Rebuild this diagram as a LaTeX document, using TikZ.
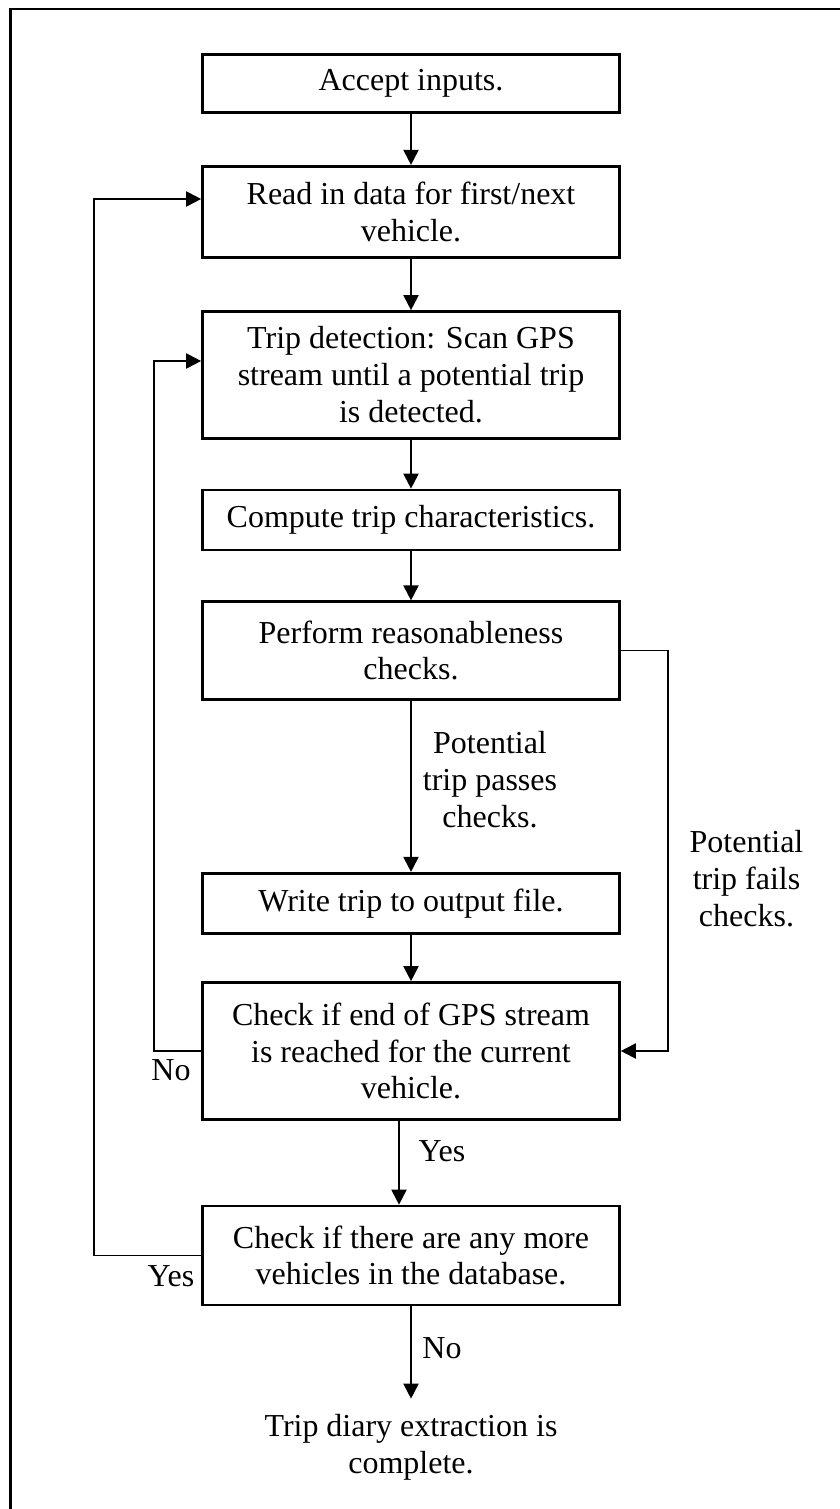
\documentclass[tikz,border=0pt]{standalone}
\usepackage{fontspec}
\setmainfont{Liberation Serif}
\usepackage{tikz}
\usetikzlibrary{arrows.meta}

\begin{document}
\begin{tikzpicture}[
        stepbox/.style={draw, line width=1.5pt, minimum width=8.34cm, align=center, inner sep=0pt},
        lbl/.style={align=center, inner sep=0pt},
        flow/.style={line width=1.1pt, -{Triangle[length=0.3cm,width=0.3cm]}},
        every node/.style={font=\fontsize{18.2}{21}\selectfont}
    ]
        \useasboundingbox (0,0) rectangle (16.8,30.18);
        % Frame (only top and left edges show)
        \draw[line width=1.4pt] (0.214,0) -- (0.214,30) -- (16.8,30);
        % Boxes
        \node[stepbox, minimum height=1.15cm] (accept) at (8.22,28.51) {Accept inputs.};
        \node[stepbox, minimum height=1.83cm] (read) at (8.22,25.94) {Read in data for first/next\\vehicle.};
        \node[stepbox, minimum height=2.54cm] (detect) at (8.22,22.68) {Trip detection: Scan GPS\\stream until a potential trip\\is detected.};
        \node[stepbox, minimum height=1.2cm] (compute) at (8.22,19.78) {Compute trip characteristics.};
        \node[stepbox, minimum height=1.95cm] (check) at (8.22,17.17) {Perform reasonableness\\checks.};
        \node[stepbox, minimum height=1.21cm] (write) at (8.22,12.11) {Write trip to output file.};
        \node[stepbox, minimum height=2.74cm] (endgps) at (8.22,9.16) {Check if end of GPS stream\\is reached for the current\\vehicle.};
        \node[stepbox, minimum height=1.98cm] (morev) at (8.22,5.07) {Check if there are any more\\vehicles in the database.};
        \node[lbl, inner sep=0.3cm] (done) at (8.22,1.24) {Trip diary extraction is\\complete.};
        % Labels on the connectors
        \node[lbl] (passes) at (9.8,14.58) {Potential\\trip passes\\checks.};
        \node[lbl] (fails) at (14.93,12.6) {Potential\\trip fails\\checks.};
        \node[lbl] (yes1) at (8.84,7.16) {Yes};
        \node[lbl] (no1) at (3.42,8.78) {No};
        \node[lbl] (yes2) at (3.42,4.66) {Yes};
        \node[lbl] (no2) at (8.84,3.22) {No};
        % Main line
        \draw[flow] (accept) -- (read);
        \draw[flow] (read) -- (detect);
        \draw[flow] (detect) -- (compute);
        \draw[flow] (compute) -- (check);
        \draw[flow] (check) -- (write);
        \draw[flow] (write) -- (endgps);
        \draw[flow] ([xshift=-0.24cm]endgps.south) -- ([xshift=-0.24cm]morev.north);
        \draw[flow] (morev) -- (done);
        % Loops
        \draw[flow] (check.east) -- ++(0.94,0) |- (endgps.east);
        \draw[flow] (endgps.west) -- ++(-0.946,0) |- ([yshift=0.28cm]detect.west);
        \draw[flow] (morev.west) -- ++(-2.146,0) |- ([yshift=0.26cm]read.west);
    \end{tikzpicture}
\end{document}
